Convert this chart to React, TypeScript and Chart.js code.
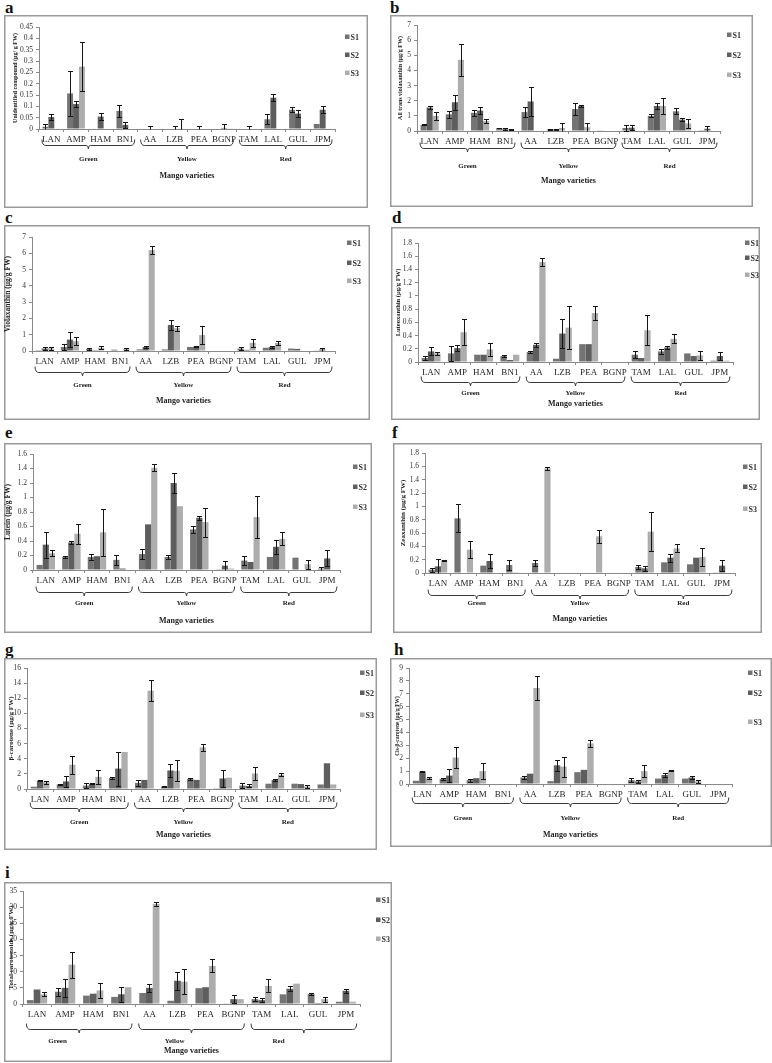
import React, { useEffect, useRef } from 'react';
import { Chart, registerables } from 'chart.js';
Chart.register(...registerables);

const FONT = '"Liberation Serif", "Times New Roman", serif';
Chart.defaults.font.family = FONT;

// ---------- shared categories ----------
const categories = ['LAN', 'AMP', 'HAM', 'BN1', 'AA', 'LZB', 'PEA', 'BGNP', 'TAM', 'LAL', 'GUL', 'JPM'];
const groupNames = ['Green', 'Yellow', 'Red'];
const groupRanges = [[0, 3], [4, 7], [8, 11]];
const seriesNames = ['S1', 'S2', 'S3'];
const seriesColors = ['#747474', '#5e5e5e', '#adadad'];
const xTitle = 'Mango varieties';

// ---------- a: Unidentified compound ----------
const aS1 = [0.01, 0.157, 0, 0.08, 0, 0, 0, 0, 0, 0.043, 0.085, 0.022];
const aS2 = [0.053, 0.11, 0.055, 0.018, 0, 0.002, 0, 0.005, 0, 0.138, 0.068, 0.085];
const aS3 = [0, 0.275, 0, 0, 0, 0.003, 0, 0.003, 0, 0, 0, 0];
const aE1 = [0.012, 0.1, 0, 0.025, 0, 0, 0, 0, 0, 0.023, 0.01, 0];
const aE2 = [0.015, 0.015, 0.015, 0.015, 0.015, 0.013, 0.015, 0.015, 0.015, 0.015, 0.015, 0.015];
const aE3 = [0, 0.107, 0, 0, 0, 0.04, 0, 0, 0, 0, 0, 0];

// ---------- b: All trans violaxanthin ----------
const bS1 = [0.4, 1.1, 1.2, 0.2, 1.25, 0.1, 1.45, 0.02, 0.2, 1.0, 1.3, 0.05];
const bS2 = [1.55, 1.9, 1.35, 0.12, 1.95, 0.1, 1.65, 0, 0.22, 1.65, 0.75, 0.15];
const bS3 = [1.0, 4.7, 0.65, 0.08, 0, 0.2, 0.25, 0, 0, 1.65, 0.5, 0];
const bE1 = [0.03, 0.22, 0.2, 0.03, 0.35, 0.03, 0.42, 0, 0.17, 0.1, 0.2, 0];
const bE2 = [0.08, 0.5, 0.25, 0.05, 0.93, 0.03, 0.05, 0, 0.15, 0.18, 0.1, 0.15];
const bE3 = [0.27, 1.05, 0.15, 0.03, 0, 0.3, 0.28, 0, 0, 0.5, 0.27, 0];

// ---------- c: Violaxanthin ----------
const cS1 = [0.05, 0.25, 0.12, 0.08, 0.1, 0.1, 0.25, 0, 0.15, 0.2, 0.15, 0.02];
const cS2 = [0.15, 0.7, 0.05, 0.03, 0.25, 1.6, 0.27, 0, 0.07, 0.25, 0.13, 0.1];
const cS3 = [0.17, 0.6, 0.2, 0.12, 6.2, 1.4, 0.98, 0, 0.5, 0.5, 0, 0];
const cE1 = [0, 0.2, 0.05, 0, 0, 0, 0, 0, 0.1, 0, 0, 0];
const cE2 = [0.08, 0.47, 0, 0, 0.05, 0.3, 0.05, 0, 0, 0.05, 0, 0.1];
const cE3 = [0.08, 0.23, 0.1, 0.06, 0.22, 0.15, 0.57, 0, 0.25, 0.13, 0, 0];

// ---------- d: Luteoxanthin ----------
const dS1 = [0.06, 0.13, 0.11, 0.09, 0.15, 0.05, 0.27, 0, 0.11, 0.16, 0.13, 0.02];
const dS2 = [0.16, 0.21, 0.11, 0.03, 0.26, 0.43, 0.27, 0, 0.06, 0.22, 0.09, 0.09];
const dS3 = [0.13, 0.45, 0.19, 0.11, 1.51, 0.52, 0.74, 0, 0.48, 0.35, 0.1, 0.02];
const dE1 = [0.03, 0.11, 0, 0.01, 0.02, 0, 0, 0, 0.05, 0.04, 0, 0];
const dE2 = [0.06, 0.04, 0, 0, 0.03, 0.22, 0, 0, 0, 0.02, 0, 0.06];
const dE3 = [0.02, 0.2, 0.1, 0, 0.06, 0.33, 0.11, 0, 0.23, 0.07, 0.07, 0];

// ---------- e: Lutein ----------
const eS1 = [0.07, 0.18, 0.18, 0.14, 0.22, 0.18, 0.56, 0.01, 0.13, 0.18, 0.17, 0.02];
const eS2 = [0.35, 0.38, 0.19, 0.02, 0.63, 1.2, 0.72, 0.06, 0.11, 0.32, 0, 0.16];
const eS3 = [0.23, 0.5, 0.52, 0, 1.41, 0.88, 0.66, 0.02, 0.73, 0.43, 0.08, 0];
const eE1 = [0, 0.02, 0.04, 0.07, 0.07, 0.03, 0.05, 0, 0.06, 0, 0, 0.02];
const eE2 = [0.18, 0.02, 0, 0, 0, 0.14, 0.03, 0.07, 0, 0.1, 0, 0.11];
const eE3 = [0.04, 0.14, 0.32, 0, 0.05, 0, 0.2, 0, 0.29, 0.09, 0.06, 0];

// ---------- f: Zeaxanthin ----------
const fS1 = [0.05, 0.82, 0.11, 0.12, 0.15, 0, 0, 0, 0.09, 0.16, 0.13, 0.01];
const fS2 = [0.1, 0, 0.18, 0.01, 0, 0, 0, 0, 0.07, 0.23, 0.23, 0.11];
const fS3 = [0.19, 0.35, 0, 0, 1.57, 0, 0.55, 0, 0.62, 0.37, 0.24, 0];
const fE1 = [0.03, 0.21, 0, 0.07, 0.05, 0, 0, 0, 0.03, 0, 0, 0];
const fE2 = [0.11, 0, 0.1, 0, 0, 0, 0, 0, 0.04, 0.06, 0, 0.08];
const fE3 = [0.01, 0.13, 0, 0, 0.02, 0, 0.1, 0, 0.29, 0.06, 0.13, 0];

// ---------- g: beta-carotene ----------
const gS1 = [0.3, 0.6, 0.45, 1.45, 0.8, 0.3, 1.35, 0.1, 0.45, 0.7, 0.7, 0.6];
const gS2 = [1.1, 1.0, 0.7, 2.7, 1.2, 2.45, 1.2, 1.4, 0.4, 1.2, 0.65, 3.4];
const gS3 = [0.9, 3.2, 1.6, 4.9, 13.0, 2.4, 5.5, 1.5, 2.05, 1.9, 0.35, 0.6];
const gE1 = [0, 0.1, 0.3, 0.1, 0.35, 0.1, 0.1, 0, 0.3, 0, 0, 0];
const gE2 = [0.1, 0.75, 0.1, 2.25, 0, 0.85, 0, 1.15, 0.2, 0.15, 0, 0];
const gE3 = [0.2, 1.2, 0.9, 0, 1.4, 1.4, 0.5, 0, 0.8, 0.2, 0.2, 0];

// ---------- h: Cis-beta-carotene ----------
const hS1 = [0.25, 0.4, 0.3, 0, 0.5, 0.22, 0.92, 0, 0.3, 0.42, 0.42, 0];
const hS2 = [0.95, 0.65, 0.45, 0, 0.8, 1.45, 1.1, 0, 0.2, 0.7, 0.5, 0];
const hS3 = [0.45, 2.05, 1.0, 0, 7.45, 1.35, 3.15, 0, 1.0, 1.05, 0.2, 0];
const hE1 = [0, 0.08, 0.12, 0, 0.15, 0, 0, 0, 0.15, 0, 0, 0];
const hE2 = [0.05, 0.5, 0, 0, 0, 0.44, 0, 0, 0.1, 0.15, 0.1, 0];
const hE3 = [0.06, 0.8, 0.6, 0, 0.9, 0.77, 0.3, 0, 0.45, 0.05, 0.1, 0];

// ---------- i: Total carotenoids ----------
const iS1 = [1.2, 3.8, 2.6, 2.2, 3.4, 1.0, 4.9, 0.2, 1.5, 3.0, 3.1, 0.7];
const iS2 = [4.5, 5.0, 3.2, 3.0, 5.0, 7.2, 5.2, 1.5, 1.2, 4.7, 0.3, 4.1];
const iS3 = [3.0, 12.2, 4.2, 5.2, 31.0, 6.9, 11.8, 1.5, 5.6, 6.3, 1.5, 0.7];
const iE1 = [0, 1.2, 0, 0, 0, 0, 0, 0, 0.6, 0, 0.4, 0];
const iE2 = [0, 2.7, 0, 2.3, 1.2, 2.8, 0, 1.3, 0.7, 0.8, 0, 0.6];
const iE3 = [0.6, 4.0, 2.2, 0, 0.6, 3.8, 2.0, 0, 2.0, 0, 0.8, 0];

// ---------- panel layout (absolute page coords) ----------
const panels = [
  { letter: 'a', lx: 5, lb: 13, title: 'Unidentified compound (µg/ g FW)', tSize: 6, tx: 15,
    yMax: 0.45, yStep: 0.05, box: [4, 15, 368, 208], plot: [39, 27, 335, 129],
    legX: 345, legY: [37, 55, 73], braceY: 145, groupY: 159, titleY: 176, groupPos: null,
    s: [aS1, aS2, aS3], e: [aE1, aE2, aE3] },
  { letter: 'b', lx: 390, lb: 13, title: 'All trans violaxanthin (µg/g FW)', tSize: 6, tx: 400,
    yMax: 7, yStep: 1, box: [390, 15, 753, 207], plot: [417, 25, 720, 131],
    legX: 727, legY: [35, 55, 75], braceY: 148, groupY: 166, titleY: 181, groupPos: null,
    s: [bS1, bS2, bS3], e: [bE1, bE2, bE3] },
  { letter: 'c', lx: 5, lb: 223, title: 'Violaxanthin (µg/g FW)', tSize: 7.5, tx: 8,
    yMax: 7, yStep: 1, box: [4, 225, 370, 420], plot: [32, 237, 335, 351],
    legX: 347, legY: [243, 263, 281], braceY: 372, groupY: 385, titleY: 401, groupPos: null,
    s: [cS1, cS2, cS3], e: [cE1, cE2, cE3] },
  { letter: 'd', lx: 392, lb: 223, title: 'Luteoxanthin (µg/g FW)', tSize: 6.5, tx: 398,
    yMax: 1.8, yStep: 0.2, box: [391, 227, 760, 420], plot: [418, 243, 733, 362],
    legX: 745, legY: [243, 258, 275], braceY: 382, groupY: 393, titleY: 404, groupPos: null,
    s: [dS1, dS2, dS3], e: [dE1, dE2, dE3] },
  { letter: 'e', lx: 5, lb: 438, title: 'Lutein (µg/g FW)', tSize: 7.5, tx: 8,
    yMax: 1.6, yStep: 0.2, box: [4, 443, 372, 633], plot: [33, 454, 340, 570],
    legX: 353, legY: [467, 487, 507], braceY: 592, groupY: 603, titleY: 621, groupPos: null,
    s: [eS1, eS2, eS3], e: [eE1, eE2, eE3] },
  { letter: 'f', lx: 392, lb: 438, title: 'Zeaxanthin (µg/g FW)', tSize: 7, tx: 403,
    yMax: 1.8, yStep: 0.2, box: [393, 443, 762, 633], plot: [425, 453, 735, 573],
    legX: 743, legY: [467, 487, 509], braceY: 595, groupY: 603, titleY: 619, groupPos: null,
    s: [fS1, fS2, fS3], e: [fE1, fE2, fE3] },
  { letter: 'g', lx: 5, lb: 655, title: 'β-carotene (µg/g FW)', tSize: 7, tx: 11,
    yMax: 16, yStep: 2, box: [4, 658, 377, 850], plot: [27, 668, 340, 789],
    legX: 360, legY: [673, 693, 715], braceY: 808, groupY: 822, titleY: 835, groupPos: null,
    s: [gS1, gS2, gS3], e: [gE1, gE2, gE3] },
  { letter: 'h', lx: 394, lb: 655, title: 'Cis-β-carotene (µg/g FW)', tSize: 5.5, tx: 398,
    yMax: 9, yStep: 1, box: [390, 658, 772, 847], plot: [409, 668, 732, 784],
    legX: 748, legY: [673, 693, 722], braceY: 803, groupY: 818, titleY: 835, groupPos: null,
    s: [hS1, hS2, hS3], e: [hE1, hE2, hE3] },
  { letter: 'i', lx: 5, lb: 878, title: 'Total carotenoids (µg/g FW)', tSize: 7, tx: 11,
    yMax: 35, yStep: 5, box: [4, 882, 392, 1062], plot: [23, 891, 360, 1004],
    legX: 376, legY: [900, 920, 939], braceY: 1029, groupY: 1041, titleY: 1051, groupPos: [0.73, 4.9, 8.6],
    s: [iS1, iS2, iS3], e: [iE1, iE2, iE3] },
];

function fmt(v: number) {
  return String(Number(Number(v).toFixed(4)));
}

function PanelChart({ p }: { p: any }) {
  const ref = useRef<HTMLCanvasElement>(null);
  const [bx, by, bx2, by2] = p.box;
  const w = bx2 - bx;
  const h = by2 - by;
  useEffect(() => {
    const [pl, pt, pr, pb] = p.plot;
    const overlay = {
      id: 'overlay' + p.letter,
      afterDatasetsDraw(chart: any) {
        const ctx = chart.ctx;
        const ys = chart.scales.y;
        ctx.save();
        ctx.strokeStyle = '#151515';
        ctx.lineWidth = 1;
        p.s.forEach((vals: number[], i: number) => {
          const meta = chart.getDatasetMeta(i);
          meta.data.forEach((bar: any, j: number) => {
            const v = vals[j];
            const e = p.e[i][j];
            if (!e) return;
            const x = Math.round(bar.x) + 0.5;
            const yt = Math.round(ys.getPixelForValue(v + e)) + 0.5;
            const yb = Math.round(ys.getPixelForValue(Math.max(0, v - e))) + 0.5;
            ctx.beginPath();
            ctx.moveTo(x, yt);
            ctx.lineTo(x, yb);
            ctx.moveTo(x - 2.5, yt);
            ctx.lineTo(x + 2.5, yt);
            if (v - e > 0) {
              ctx.moveTo(x - 2.5, yb);
              ctx.lineTo(x + 2.5, yb);
            }
            ctx.stroke();
          });
        });
        ctx.restore();
      },
      afterDraw(chart: any) {
        const ctx = chart.ctx;
        const xs = chart.scales.x;
        ctx.save();
        // border box
        ctx.strokeStyle = '#9a9a9a';
        ctx.lineWidth = 1.5;
        ctx.strokeRect(0.75, 0.75, w - 1.5, h - 1.5);
        // braces
        const catW = (xs.right - xs.left) / categories.length;
        const yB = p.braceY - by + 0.5;
        ctx.strokeStyle = '#3a3a3a';
        ctx.lineWidth = 1;
        groupRanges.forEach(([s0, s1]) => {
          const x0 = xs.getPixelForValue(s0) - 0.38 * catW;
          const x1 = xs.getPixelForValue(s1) + 0.38 * catW;
          const xm = (x0 + x1) / 2;
          ctx.beginPath();
          ctx.moveTo(x0, yB - 6);
          ctx.quadraticCurveTo(x0, yB, x0 + 4, yB);
          ctx.lineTo(xm - 2, yB);
          ctx.quadraticCurveTo(xm, yB, xm, yB + 3.5);
          ctx.quadraticCurveTo(xm, yB, xm + 2, yB);
          ctx.lineTo(x1 - 4, yB);
          ctx.quadraticCurveTo(x1, yB, x1, yB - 6);
          ctx.stroke();
        });
        // group labels
        ctx.fillStyle = '#222';
        ctx.textAlign = 'center';
        ctx.textBaseline = 'middle';
        ctx.font = `bold 7px ${FONT}`;
        groupNames.forEach((g, k) => {
          const idx = p.groupPos ? p.groupPos[k] : (groupRanges[k][0] + groupRanges[k][1]) / 2;
          const gx = xs.left + (idx + 0.5) * catW;
          ctx.fillText(g, gx, p.groupY - by);
        });
        // x title
        ctx.font = `bold 8px ${FONT}`;
        ctx.fillText(xTitle, (pl + pr) / 2 - bx, p.titleY - by);
        // y title
        ctx.save();
        ctx.translate(p.tx - bx, (pt + pb) / 2 - by);
        ctx.rotate(-Math.PI / 2);
        ctx.font = `bold ${p.tSize}px ${FONT}`;
        ctx.fillText(p.title, 0, 0);
        ctx.restore();
        // legend
        ctx.textAlign = 'left';
        ctx.font = `bold 8px ${FONT}`;
        seriesNames.forEach((n, k) => {
          const lx = p.legX - bx;
          const ly = p.legY[k] - by;
          ctx.fillStyle = seriesColors[k];
          ctx.fillRect(lx, ly - 2.5, 4.5, 4.5);
          ctx.fillStyle = '#333';
          ctx.fillText(n, lx + 5.5, ly + 0.5);
        });
        ctx.restore();
      },
    };

    const chart = new Chart(ref.current as HTMLCanvasElement, {
      type: 'bar',
      data: {
        labels: categories,
        datasets: p.s.map((vals: number[], k: number) => ({
          label: seriesNames[k],
          data: vals,
          backgroundColor: seriesColors[k],
          borderWidth: 0,
          categoryPercentage: 0.72,
          barPercentage: 1.0,
        })),
      },
      options: {
        responsive: false,
        animation: false,
        devicePixelRatio: 1,
        layout: { padding: { left: 0, top: pt - by, right: bx2 - pr, bottom: 0 } },
        plugins: { legend: { display: false }, tooltip: { enabled: false } },
        scales: {
          x: {
            offset: true,
            grid: { display: true, drawOnChartArea: false, drawTicks: true, tickLength: 3, color: '#8a8a8a', offset: true },
            border: { color: '#8a8a8a', width: 1 },
            ticks: { font: { family: FONT, size: 9 }, color: '#1e1e1e', padding: 2, autoSkip: false, maxRotation: 0 },
            afterFit: (s: any) => { s.height = by2 - pb; },
          },
          y: {
            min: 0,
            max: p.yMax,
            grid: { display: true, drawOnChartArea: false, drawTicks: true, tickLength: 3, color: '#8a8a8a' },
            border: { color: '#8a8a8a', width: 1 },
            ticks: { stepSize: p.yStep, autoSkip: false, font: { family: FONT, size: 7.5 }, color: '#333', padding: 3, callback: (v: any) => fmt(v) },
            afterFit: (s: any) => { s.width = pl - bx; },
          },
        },
      },
      plugins: [overlay],
    } as any);
    return () => chart.destroy();
  }, []);
  return (
    <canvas
      ref={ref}
      width={w}
      height={h}
      style={{ position: 'absolute', left: bx, top: by, width: w, height: h }}
    />
  );
}

export default function App() {
  return (
    <div style={{ position: 'absolute', left: 0, top: 0, width: 772, height: 1063, background: '#fff', overflow: 'hidden' }}>
      {panels.map((p) => (
        <React.Fragment key={p.letter}>
          <div
            style={{
              position: 'absolute', left: p.lx, top: p.lb - 13, fontFamily: FONT, fontWeight: 'bold',
              fontSize: 17, lineHeight: '16px', color: '#111',
            }}
          >
            {p.letter}
          </div>
          <PanelChart p={p} />
        </React.Fragment>
      ))}
    </div>
  );
}
